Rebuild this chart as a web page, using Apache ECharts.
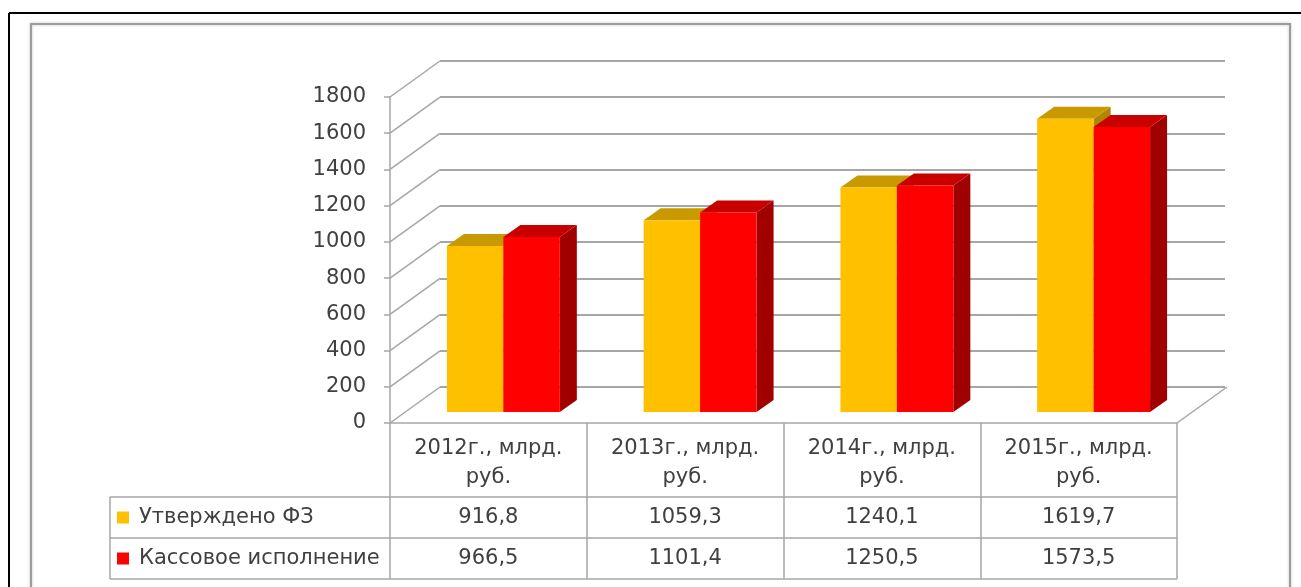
<!DOCTYPE html>
<html><head><meta charset="utf-8">
<script src="https://cdn.jsdelivr.net/npm/echarts@6/dist/echarts.min.js"></script>
<style>html,body{margin:0;padding:0;background:#fff;overflow:hidden}#c{width:1301px;height:587px}</style>
</head><body><div id="c"></div>
<script>
// ---- data ----
const categories = ['2012г., млрд.\nруб.', '2013г., млрд.\nруб.', '2014г., млрд.\nруб.', '2015г., млрд.\nруб.'];
const seriesNames = ['Утверждено ФЗ', 'Кассовое исполнение'];
const approved = [916.8, 1059.3, 1240.1, 1619.7];
const executed = [966.5, 1101.4, 1250.5, 1573.5];
const yTicks = [0, 200, 400, 600, 800, 1000, 1200, 1400, 1600, 1800];

// ---- style ----
const FONT = 'DejaVu Sans';
const FS = 21;
const TXT = '#404040';
const GRID_C = '#a6a6a6';
const frontColors = ['#FFC000', '#FF0000'];
const topColors = ['#C99A00', '#C80000'];
const sideColors = ['#B08600', '#A00000'];
const G = {left: 390, top: 97, width: 787, height: 326};
const DX = 50, DY = -36;          // floor depth
const BOX = {ox: 15, oy: -11, dx: 17, dy: -12, frac: 0.287};
const HEADER_H = 74, ROW_H = 41, TABLE_LEFT = 110;

const chart = echarts.init(document.getElementById('c'), null, {renderer: 'canvas'});

function barRenderer(si) {
  return function (params, api) {
    const c = api.value(0), v = api.value(1);
    const base = api.coord([c, 0]);
    const tp = api.coord([c, v]);
    const band = api.size([1, 0])[0];
    const bw = band * BOX.frac;
    const x0 = base[0] + BOX.ox + (si === 0 ? -bw : 0);
    const x1 = x0 + bw;
    const yb = base[1] + BOX.oy, yt = tp[1] + BOX.oy;
    return {
      type: 'group',
      children: [
        {type: 'polygon', shape: {points: [[x1, yt], [x1 + BOX.dx, yt + BOX.dy], [x1 + BOX.dx, yb + BOX.dy], [x1, yb]]}, style: {fill: sideColors[si]}},
        {type: 'polygon', shape: {points: [[x0, yt], [x1, yt], [x1 + BOX.dx, yt + BOX.dy], [x0 + BOX.dx, yt + BOX.dy]]}, style: {fill: topColors[si]}},
        {type: 'rect', shape: {x: x0, y: yt, width: bw, height: yb - yt}, style: {fill: frontColors[si]}}
      ]
    };
  };
}

const option = {
  animation: false,
  backgroundColor: '#fff',
  textStyle: {fontFamily: FONT},
  grid: [
    {left: G.left, top: G.top, width: G.width, height: G.height},
    {left: G.left + DX, top: G.top + DY, width: G.width - 2, height: G.height}
  ],
  xAxis: [
    {
      gridIndex: 0, type: 'category', data: categories,
      axisLine: {show: true, lineStyle: {color: GRID_C, width: 1.5}},
      axisTick: {show: true, length: HEADER_H + 2 * ROW_H, lineStyle: {color: GRID_C, width: 1.5}},
      axisLabel: {interval: 0, fontFamily: FONT, fontSize: FS, lineHeight: 29, color: TXT, margin: 11}
    },
    {gridIndex: 1, type: 'category', data: categories, show: false}
  ],
  yAxis: [
    {
      gridIndex: 0, type: 'value', min: 0, max: 1800, interval: 200,
      axisLine: {show: true, lineStyle: {color: GRID_C, width: 1.5}},
      axisTick: {show: true, length: 6, lineStyle: {color: GRID_C, width: 1.5}},
      axisLabel: {fontFamily: FONT, fontSize: FS, color: TXT, margin: 24, formatter: v => String(v)},
      splitLine: {show: false}
    },
    {
      gridIndex: 1, type: 'value', min: 0, max: 1800, interval: 200,
      axisLine: {show: false}, axisTick: {show: false}, axisLabel: {show: false},
      splitLine: {show: true, lineStyle: {color: GRID_C, width: 2}}
    }
  ],
  series: [
    {
      type: 'custom', name: 'walls', xAxisIndex: 0, yAxisIndex: 0, silent: true, z: 1,
      data: yTicks.map(v => [0, v]),
      renderItem: function (params, api) {
        const v = api.value(1);
        const y = api.coord([0, v])[1];
        const cs = params.coordSys;
        const ch = [{type: 'line', shape: {x1: cs.x, y1: y, x2: cs.x + DX, y2: y + DY}, style: {stroke: GRID_C, lineWidth: 1.5}}];
        if (v === 0) ch.push({type: 'line', shape: {x1: cs.x + cs.width, y1: y, x2: cs.x + cs.width + DX, y2: y + DY}, style: {stroke: GRID_C, lineWidth: 1.5}});
        return {type: 'group', children: ch};
      }
    },
    {
      type: 'custom', name: seriesNames[0], xAxisIndex: 0, yAxisIndex: 0, z: 3,
      data: approved.map((v, i) => [i, v]), renderItem: barRenderer(0)
    },
    {
      type: 'custom', name: seriesNames[1], xAxisIndex: 0, yAxisIndex: 0, z: 4,
      data: executed.map((v, i) => [i, v]), renderItem: barRenderer(1)
    }
  ]
};
chart.setOption(option);

// ---- data table rows and frames ----
const tableTop = G.top + G.height;
const r1 = tableTop + HEADER_H, r2 = r1 + ROW_H, r3 = r2 + ROW_H;
const right = G.left + G.width;
const fmt = v => v.toFixed(1).replace('.', ',');
const rows = [approved, executed];
const els = [
  {type: 'line', shape: {x1: 9, y1: 13, x2: 1301, y2: 13}, style: {stroke: '#000', lineWidth: 2}},
  {type: 'line', shape: {x1: 9, y1: 13, x2: 9, y2: 587}, style: {stroke: '#000', lineWidth: 2}},
  {type: 'rect', shape: {x: 31, y: 24, width: 1259, height: 620}, style: {fill: 'none', stroke: '#9c9c9c', lineWidth: 2, shadowBlur: 3, shadowColor: 'rgba(0,0,0,0.25)'}},
  {type: 'line', shape: {x1: TABLE_LEFT, y1: r1, x2: right, y2: r1}, style: {stroke: GRID_C, lineWidth: 1.5}},
  {type: 'line', shape: {x1: TABLE_LEFT, y1: r2, x2: right, y2: r2}, style: {stroke: GRID_C, lineWidth: 1.5}},
  {type: 'line', shape: {x1: TABLE_LEFT, y1: r3, x2: right, y2: r3}, style: {stroke: GRID_C, lineWidth: 1.5}},
  {type: 'line', shape: {x1: TABLE_LEFT, y1: r1, x2: TABLE_LEFT, y2: r3}, style: {stroke: GRID_C, lineWidth: 1.5}}
];
rows.forEach((vals, ri) => {
  const cy = r1 + ROW_H * ri + ROW_H / 2;
  els.push({type: 'rect', shape: {x: TABLE_LEFT + 7, y: cy - 6, width: 12, height: 12}, style: {fill: frontColors[ri]}});
  els.push({type: 'text', x: TABLE_LEFT + 29, y: cy, style: {text: seriesNames[ri], fontFamily: FONT, fontSize: FS, fill: TXT, align: 'left', verticalAlign: 'middle'}});
  vals.forEach((v, ci) => {
    const cx = chart.convertToPixel({xAxisIndex: 0}, ci);
    els.push({type: 'text', x: cx, y: cy, style: {text: fmt(v), fontFamily: FONT, fontSize: FS, fill: TXT, align: 'center', verticalAlign: 'middle'}});
  });
});
chart.setOption({graphic: {elements: els}});
</script>
</body></html>
